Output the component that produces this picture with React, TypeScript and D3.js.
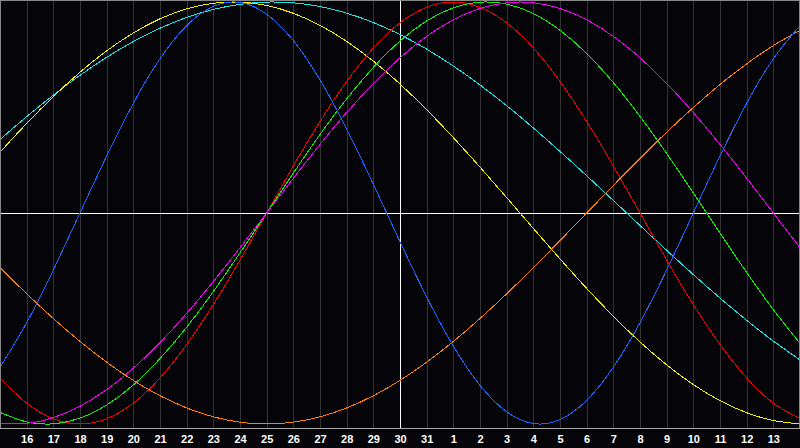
import React from "react";
import * as d3 from "d3";

// Day labels for the 31 gridlines (index 0 = left edge, 30 = right edge)
const dayLabels = [
  "15", "16", "17", "18", "19", "20", "21", "22", "23", "24", "25", "26", "27", "28", "29", "30",
  "31", "1", "2", "3", "4", "5", "6", "7", "8", "9", "10", "11", "12", "13", "14",
];

// Daily values (-1 .. 1)
const blueValues = [
  -0.731, -0.52, -0.27, 0, 0.27, 0.52, 0.731, 0.888, 0.979, 0.998, 0.942, 0.817, 0.631, 0.398, 0.136,
  -0.136, -0.398, -0.631, -0.817, -0.942, -0.998, -0.979, -0.888, -0.731, -0.52, -0.27, 0, 0.27, 0.52, 0.731, 0.888,
];
const redValues = [
  -0.782, -0.901, -0.975, -1, -0.975, -0.901, -0.782, -0.623, -0.434, -0.223, 0, 0.223, 0.434, 0.623, 0.782,
  0.901, 0.975, 1, 0.975, 0.901, 0.782, 0.623, 0.434, 0.223, 0, -0.223, -0.434, -0.623, -0.782, -0.901, -0.975,
];
const greenValues = [
  -0.945, -0.99, -0.999, -0.972, -0.91, -0.815, -0.69, -0.541, -0.372, -0.189, 0, 0.189, 0.372, 0.541, 0.69,
  0.815, 0.91, 0.972, 0.999, 0.99, 0.945, 0.866, 0.756, 0.618, 0.458, 0.282, 0.095, -0.095, -0.282, -0.458, -0.618,
];
const magentaValues = [
  -0.9966, -0.9966, -0.9694, -0.9158, -0.8372, -0.7357, -0.6142, -0.4759, -0.3247, -0.1646, 0, 0.1646, 0.3247,
  0.4759, 0.6142, 0.7357, 0.8372, 0.9158, 0.9694, 0.9966, 0.9966, 0.9694, 0.9158, 0.8372, 0.7357, 0.6142, 0.4759,
  0.3247, 0.1646, 0, -0.1646,
];
const yellowValues = [
  0.2881, 0.4245, 0.5517, 0.6671, 0.7685, 0.8533, 0.9203, 0.9675, 0.994, 0.9993, 0.9834, 0.9465, 0.8894, 0.8133,
  0.7199, 0.6112, 0.4895, 0.3572, 0.2174, 0.073, -0.073, -0.2174, -0.3572, -0.4895, -0.6112, -0.7199, -0.8133,
  -0.8894, -0.9465, -0.9834, -0.9993,
];
const cyanValues = [
  0.3482, 0.4566, 0.5586, 0.6528, 0.738, 0.8126, 0.8758, 0.9267, 0.9646, 0.989, 0.9996, 0.9961, 0.9786, 0.9473,
  0.9028, 0.8457, 0.7765, 0.6964, 0.6068, 0.5085, 0.4031, 0.292, 0.1769, 0.0592, -0.0592, -0.1769, -0.292, -0.4031,
  -0.5085, -0.6068, -0.6964,
];
const orangeValues = [
  -0.2588, -0.3827, -0.5, -0.6088, -0.7071, -0.7934, -0.866, -0.9239, -0.9659, -0.9914, -1, -0.9914, -0.9659,
  -0.9239, -0.866, -0.7934, -0.7071, -0.6088, -0.5, -0.3827, -0.2588, -0.1305, 0, 0.1305, 0.2588, 0.3827, 0.5,
  0.6088, 0.7071, 0.7934, 0.866,
];

const seriesList = [
  { name: "cyan", values: cyanValues, color: "#1ee6e6" },
  { name: "yellow", values: yellowValues, color: "#f0f000" },
  { name: "red", values: redValues, color: "#f00000" },
  { name: "green", values: greenValues, color: "#10f000" },
  { name: "magenta", values: magentaValues, color: "#f000f0" },
  { name: "orange", values: orangeValues, color: "#ff7f00" },
  { name: "blue", values: blueValues, color: "#1e64ff" },
];

const W = 800;
const H = 448;
const PLOT_BOTTOM = 428;

export default function App() {
  const x = d3.scaleLinear().domain([0, dayLabels.length - 1]).range([0, W]);
  const y = d3.scaleLinear().domain([-1, 1]).range([424, 2]);
  const line = d3
    .line<number>()
    .x((_, i) => x(i))
    .y((v) => y(v))
    .curve(d3.curveNatural);

  const px = (v: number) => Math.round(v) + 0.5;

  return (
    <svg
      width={W}
      height={H}
      style={{ position: "fixed", left: 0, top: 0, background: "#050408", display: "block" }}
    >
      <rect x={0} y={0} width={W} height={H} fill="#050408" />
      {dayLabels.map((_, i) => (
        <line
          key={"g" + i}
          x1={px(x(i))}
          x2={px(x(i))}
          y1={0}
          y2={PLOT_BOTTOM}
          stroke="#333333"
          strokeWidth={1}
          shapeRendering="crispEdges"
        />
      ))}
      <line x1={0} x2={W} y1={213.5} y2={213.5} stroke="#ffffff" shapeRendering="crispEdges" />
      <line x1={px(x(15))} x2={px(x(15))} y1={0} y2={PLOT_BOTTOM} stroke="#ffffff" shapeRendering="crispEdges" />
      <g clipPath="url(#plotclip)">
        <defs>
          <clipPath id="plotclip">
            <rect x={0} y={0} width={W} height={PLOT_BOTTOM} />
          </clipPath>
        </defs>
        {seriesList.map((s) => (
          <path
            key={s.name}
            d={line(s.values) || ""}
            fill="none"
            stroke={s.color}
            strokeWidth={1}
            shapeRendering="crispEdges"
          />
        ))}
      </g>
      <rect x={0.5} y={0.5} width={W - 1} height={PLOT_BOTTOM - 0.5} fill="none" stroke="#888888" shapeRendering="crispEdges" />
      <line x1={0} x2={W} y1={PLOT_BOTTOM + 0.5} y2={PLOT_BOTTOM + 0.5} stroke="#a8a8a8" shapeRendering="crispEdges" />
      {dayLabels.map((lab, i) =>
        i === 0 || i === dayLabels.length - 1 ? null : (
          <text
            key={"t" + i}
            x={x(i) + 0.5}
            y={443}
            textAnchor="middle"
            fill="#ffffff"
            fontFamily="'Liberation Sans', Arial, sans-serif"
            fontWeight="bold"
            fontSize={11}
          >
            {lab}
          </text>
        )
      )}
    </svg>
  );
}
